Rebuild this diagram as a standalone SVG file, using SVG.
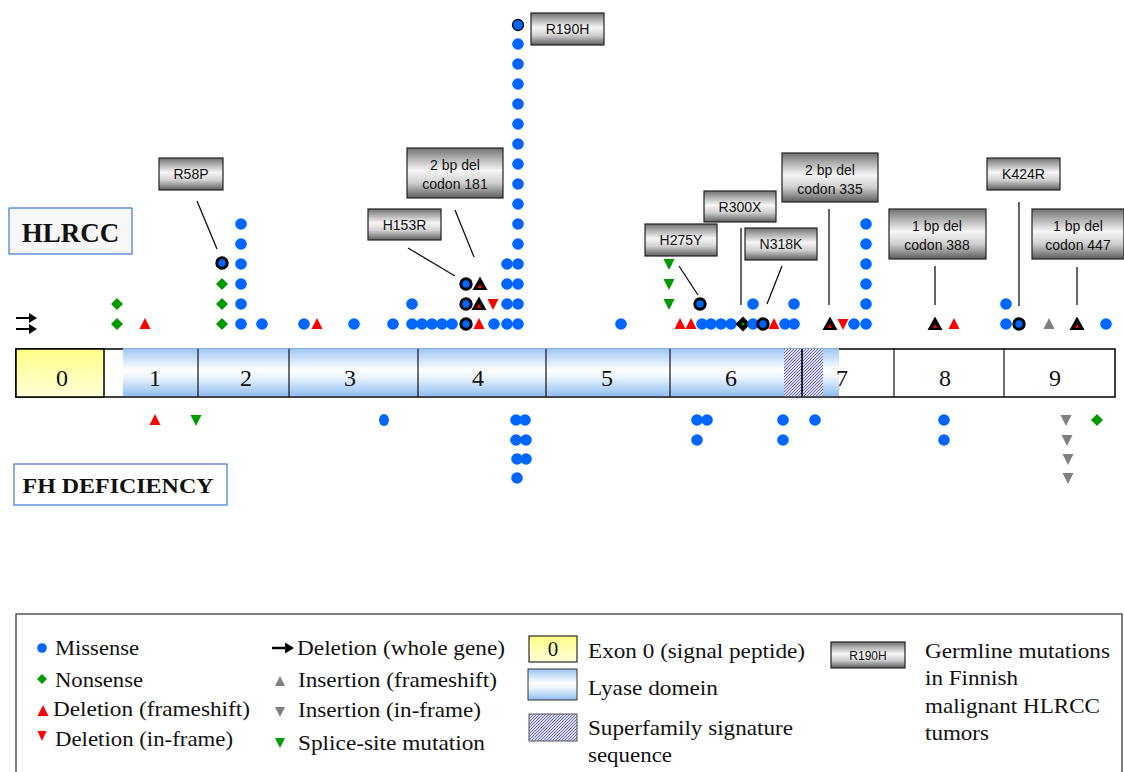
<svg xmlns="http://www.w3.org/2000/svg" xmlns:xlink="http://www.w3.org/1999/xlink" width="1124" height="772" viewBox="0 0 1124 772">
<style>
.gb{fill:url(#gray);stroke:#222;stroke-width:1.2}
.bt{font-family:"Liberation Sans",Arial,sans-serif;font-size:14px;fill:#111;text-anchor:middle}
.num{font-family:"Liberation Serif","Times New Roman",serif;font-size:24px;fill:#111;text-anchor:middle}
.lg{font-family:"Liberation Serif","Times New Roman",serif;font-size:21px;fill:#111}
.ttl{font-family:"Liberation Serif","Times New Roman",serif;font-weight:bold;fill:#111}
.ln{stroke:#111;stroke-width:1.3;fill:none}
.dv{stroke:#111;stroke-width:1.2}
</style>
<defs>
<linearGradient id="gray" x1="0" y1="0" x2="0" y2="1">
<stop offset="0" stop-color="#707070"/><stop offset="0.18" stop-color="#a8a8a8"/><stop offset="0.45" stop-color="#f6f6f6"/><stop offset="0.7" stop-color="#cfcfcf"/><stop offset="1" stop-color="#5c5c5c"/>
</linearGradient>
<linearGradient id="lyase" x1="0" y1="0" x2="0" y2="1">
<stop offset="0" stop-color="#9cc6f4"/><stop offset="0.45" stop-color="#ffffff"/><stop offset="0.6" stop-color="#eef5fe"/><stop offset="1" stop-color="#8fbef2"/>
</linearGradient>
<linearGradient id="yellow" x1="0" y1="0" x2="0" y2="1">
<stop offset="0" stop-color="#ffff88"/><stop offset="1" stop-color="#ffffd8"/>
</linearGradient>
<pattern id="hatch" width="3" height="3" patternUnits="userSpaceOnUse">
<rect width="3" height="3" fill="#dcdcf2"/><path d="M0,3 L3,0" stroke="#5a5ab8" stroke-width="0.9"/>
</pattern>
<circle id="mis" r="5.8" fill="#0066ff"/>
<polygon id="non" points="0,-6 6,0 0,6 -6,0" fill="#009900"/>
<polygon id="dfs" points="-5.5,5 5.5,5 0,-6" fill="#ff0000"/>
<polygon id="dif" points="-5.5,-5 5.5,-5 0,6" fill="#ff0000"/>
<polygon id="ins" points="-5.5,5 5.5,5 0,-6" fill="#808080"/>
<polygon id="inf" points="-5.5,-5 5.5,-5 0,6" fill="#808080"/>
<polygon id="spl" points="-5.5,-5 5.5,-5 0,6" fill="#009900"/>
<g id="gmis"><circle r="5.2" fill="#0066ff" stroke="#000" stroke-width="3"/><circle r="2.8" fill="#0066ff"/></g>
<g id="gdfs"><polygon points="-7.5,6 7.5,6 0,-7.5" fill="#000"/><polygon points="-2.2,4 2.2,4 0,0" fill="#ff0000"/></g>
<g id="gnon"><polygon points="0,-7.5 7.5,0 0,7.5 -7.5,0" fill="#000"/><circle r="1.5" fill="#00aa00"/></g>
</defs>
<rect width="1124" height="772" fill="#fff"/>

<g id="label-hlrcc">
<rect x="9" y="208" width="123" height="46" fill="#f7f7f7" stroke="#3a7bd5" stroke-width="1.2"/>
<text class="ttl" x="70.5" y="242" font-size="27" text-anchor="middle">HLRCC</text>
</g>
<g id="label-fhd">
<rect x="14" y="464" width="213" height="41" fill="#fff" stroke="#3a7bd5" stroke-width="1.2"/>
<text class="ttl" x="118" y="493" font-size="22" text-anchor="middle" textLength="191" lengthAdjust="spacingAndGlyphs">FH DEFICIENCY</text>
</g>

<g id="gene">
<rect x="16" y="349" width="1099" height="48" fill="#fff" stroke="#000" stroke-width="1.5"/>
<rect x="123" y="348.2" width="716" height="48" fill="url(#lyase)"/>
<rect x="784" y="349" width="39" height="47.5" fill="url(#hatch)"/>
<line x1="123" y1="397" x2="839" y2="397" stroke="#444" stroke-width="1.5"/>
<rect x="16" y="349" width="88" height="48" fill="url(#yellow)" stroke="#000" stroke-width="1.5"/>
<line class="dv" x1="198" y1="349" x2="198" y2="397"/>
<line class="dv" x1="289" y1="349" x2="289" y2="397"/>
<line class="dv" x1="418" y1="349" x2="418" y2="397"/>
<line class="dv" x1="546" y1="349" x2="546" y2="397"/>
<line class="dv" x1="670" y1="349" x2="670" y2="397"/>
<line x1="802" y1="349" x2="802" y2="397" stroke="#222" stroke-width="2"/>
<line class="dv" x1="894" y1="349" x2="894" y2="397"/>
<line class="dv" x1="1004" y1="349" x2="1004" y2="397"/>
<text class="num" x="62" y="386">0</text>
<text class="num" x="155" y="386">1</text>
<text class="num" x="246" y="386">2</text>
<text class="num" x="350" y="386">3</text>
<text class="num" x="478" y="386">4</text>
<text class="num" x="607" y="386">5</text>
<text class="num" x="731" y="386">6</text>
<text class="num" x="842" y="386">7</text>
<text class="num" x="945" y="386">8</text>
<text class="num" x="1055" y="386">9</text>
</g>

<g id="connectors">
<line class="ln" x1="197" y1="201" x2="217" y2="249"/>
<line class="ln" x1="408" y1="248" x2="455" y2="276"/>
<line class="ln" x1="455" y1="210" x2="474" y2="257"/>
<line class="ln" x1="679" y1="266" x2="698" y2="295"/>
<line class="ln" x1="741" y1="228" x2="741" y2="305"/>
<line class="ln" x1="782" y1="266" x2="767" y2="304"/>
<line class="ln" x1="829" y1="209" x2="829" y2="305"/>
<line class="ln" x1="935" y1="266" x2="935" y2="305"/>
<line class="ln" x1="1019" y1="202" x2="1019" y2="306"/>
<line class="ln" x1="1077" y1="267" x2="1077" y2="305"/>
</g>

<g id="whole-gene-deletion">
<path d="M16,318 H31 M16,329 H31" stroke="#000" stroke-width="2.2"/>
<polygon points="29,313 37,318 29,323" fill="#000"/>
<polygon points="29,324 37,329 29,334" fill="#000"/>
</g>

<g id="hlrcc-markers">
<use href="#non" x="117" y="304"/><use href="#non" x="117" y="324"/>
<use href="#dfs" x="145" y="324"/>
<use href="#non" x="222" y="324"/><use href="#non" x="222" y="304"/><use href="#non" x="222" y="284"/>
<use href="#gmis" x="222" y="263"/>
<use href="#mis" x="241" y="324"/><use href="#mis" x="241" y="304"/><use href="#mis" x="241" y="284"/><use href="#mis" x="241" y="264"/><use href="#mis" x="241" y="244"/><use href="#mis" x="241" y="224"/>
<use href="#mis" x="262" y="324"/>
<use href="#mis" x="304" y="324"/><use href="#dfs" x="317" y="324"/>
<use href="#mis" x="354" y="324"/><use href="#mis" x="393" y="324"/>
<use href="#mis" x="412" y="304"/>
<use href="#mis" x="412" y="324"/><use href="#mis" x="422" y="324"/><use href="#mis" x="432" y="324"/><use href="#mis" x="442" y="324"/><use href="#mis" x="452" y="324"/>
<use href="#gmis" x="466" y="324"/><use href="#gmis" x="466" y="304"/><use href="#gmis" x="466" y="284"/>
<use href="#dfs" x="479" y="324"/>
<use href="#gdfs" x="479" y="304"/><use href="#gdfs" x="480" y="284"/>
<use href="#dif" x="493" y="304"/>
<use href="#mis" x="494" y="324"/>
<use href="#mis" x="507" y="324"/><use href="#mis" x="507" y="304"/><use href="#mis" x="507" y="284"/><use href="#mis" x="507" y="264"/>
<use href="#mis" x="518" y="324"/><use href="#mis" x="518" y="304"/><use href="#mis" x="518" y="284"/><use href="#mis" x="518" y="264"/>
<use href="#mis" x="518" y="244"/><use href="#mis" x="518" y="224"/><use href="#mis" x="518" y="204"/><use href="#mis" x="518" y="184"/><use href="#mis" x="518" y="164"/><use href="#mis" x="518" y="144"/><use href="#mis" x="518" y="124"/><use href="#mis" x="518" y="104"/><use href="#mis" x="518" y="84"/><use href="#mis" x="518" y="64"/><use href="#mis" x="518" y="44"/>
<circle cx="518" cy="25" r="5.5" fill="#0066ff" stroke="#000" stroke-width="1.3"/>
<use href="#mis" x="621" y="324"/>
<use href="#spl" x="669" y="304"/><use href="#spl" x="669" y="284"/><use href="#spl" x="669" y="264"/>
<use href="#dfs" x="680" y="324"/><use href="#dfs" x="691" y="324"/>
<use href="#gmis" x="700" y="304"/>
<use href="#mis" x="702" y="324"/><use href="#mis" x="711" y="324"/><use href="#mis" x="721" y="324"/><use href="#mis" x="731" y="324"/>
<use href="#gnon" x="743" y="324"/>
<use href="#mis" x="753" y="324"/><use href="#mis" x="753" y="304"/>
<use href="#gmis" x="763" y="324"/>
<use href="#dfs" x="774" y="324"/>
<use href="#mis" x="785" y="324"/><use href="#mis" x="794" y="324"/><use href="#mis" x="794" y="304"/>
<use href="#gdfs" x="830" y="324"/>
<use href="#dif" x="843" y="324"/>
<use href="#mis" x="854" y="324"/>
<use href="#mis" x="866" y="324"/><use href="#mis" x="866" y="304"/><use href="#mis" x="866" y="284"/><use href="#mis" x="866" y="264"/><use href="#mis" x="866" y="244"/><use href="#mis" x="866" y="224"/>
<use href="#gdfs" x="935" y="324"/><use href="#dfs" x="954" y="324"/>
<use href="#mis" x="1006" y="304"/><use href="#mis" x="1006" y="324"/>
<use href="#gmis" x="1019" y="324"/>
<use href="#ins" x="1049" y="324"/>
<use href="#gdfs" x="1077" y="324"/>
<use href="#mis" x="1106" y="324"/>
</g>

<g id="fhd-markers">
<use href="#dfs" x="155" y="420"/>
<use href="#spl" x="196" y="420"/>
<ellipse cx="384" cy="420" rx="5" ry="6" fill="#0066ff"/>
<use href="#mis" x="516" y="420"/><use href="#mis" x="525" y="420"/>
<use href="#mis" x="516" y="440"/><use href="#mis" x="526" y="440"/>
<use href="#mis" x="517" y="459"/><use href="#mis" x="526" y="459"/>
<use href="#mis" x="517" y="478"/>
<use href="#mis" x="697" y="420"/><use href="#mis" x="707" y="420"/><use href="#mis" x="697" y="440"/>
<use href="#mis" x="783" y="420"/><use href="#mis" x="783" y="440"/>
<use href="#mis" x="815" y="420"/>
<use href="#mis" x="944" y="420"/><use href="#mis" x="944" y="440"/>
<use href="#inf" x="1066" y="420"/><use href="#inf" x="1067" y="440"/><use href="#inf" x="1068" y="459"/><use href="#inf" x="1068" y="478"/>
<use href="#non" x="1097" y="420"/>
</g>

<g id="box-r58p"><rect class="gb" x="159" y="158" width="64" height="32"/><text class="bt" x="191" y="179">R58P</text></g>
<g id="box-r190h"><rect class="gb" x="531" y="13" width="73" height="32"/><text class="bt" x="567.5" y="34">R190H</text></g>
<g id="box-h153r"><rect class="gb" x="368" y="209" width="73" height="31"/><text class="bt" x="404.5" y="230">H153R</text></g>
<g id="box-del181"><rect class="gb" x="407" y="148" width="96" height="50"/><text class="bt" x="455" y="170">2 bp del</text><text class="bt" x="455" y="189">codon 181</text></g>
<g id="box-h275y"><rect class="gb" x="645" y="224" width="72" height="32"/><text class="bt" x="681" y="245">H275Y</text></g>
<g id="box-r300x"><rect class="gb" x="704" y="191" width="72" height="31"/><text class="bt" x="740" y="212">R300X</text></g>
<g id="box-n318k"><rect class="gb" x="745" y="228" width="72" height="32"/><text class="bt" x="781" y="249">N318K</text></g>
<g id="box-del335"><rect class="gb" x="782" y="153" width="96" height="49"/><text class="bt" x="830" y="175">2 bp del</text><text class="bt" x="830" y="194">codon 335</text></g>
<g id="box-del388"><rect class="gb" x="889" y="209" width="97" height="50"/><text class="bt" x="937" y="231">1 bp del</text><text class="bt" x="937" y="250">codon 388</text></g>
<g id="box-k424r"><rect class="gb" x="987" y="158" width="73" height="32"/><text class="bt" x="1023.5" y="179">K424R</text></g>
<g id="box-del447"><rect class="gb" x="1032" y="209" width="92" height="50"/><text class="bt" x="1078" y="231">1 bp del</text><text class="bt" x="1078" y="250">codon 447</text></g>

<g id="legend">
<rect x="16" y="614" width="1106" height="180" fill="none" stroke="#555" stroke-width="1.5"/>
<circle cx="42" cy="648" r="4.8" fill="#0066ff"/>
<text class="lg" x="55" y="655" textLength="84" lengthAdjust="spacingAndGlyphs">Missense</text>
<polygon points="42,674 47,679 42,684 37,679" fill="#009900"/>
<text class="lg" x="55" y="687" textLength="88" lengthAdjust="spacingAndGlyphs">Nonsense</text>
<polygon points="37.5,716 48.5,716 43,705" fill="#ff0000"/>
<text class="lg" x="53" y="716" textLength="197" lengthAdjust="spacingAndGlyphs">Deletion (frameshift)</text>
<polygon points="37.5,731 46.5,731 42,741" fill="#ff0000"/>
<text class="lg" x="55" y="746" textLength="178" lengthAdjust="spacingAndGlyphs">Deletion (in-frame)</text>
<line x1="272" y1="648" x2="287" y2="648" stroke="#000" stroke-width="2.5"/>
<polygon points="285,642.5 294,648 285,653.5" fill="#000"/>
<text class="lg" x="297" y="655" textLength="208" lengthAdjust="spacingAndGlyphs">Deletion (whole gene)</text>
<polygon points="275,686 285,686 280,676" fill="#808080"/>
<text class="lg" x="298" y="687" textLength="199" lengthAdjust="spacingAndGlyphs">Insertion (frameshift)</text>
<polygon points="275,707 285,707 280,717" fill="#808080"/>
<text class="lg" x="298" y="717" textLength="183" lengthAdjust="spacingAndGlyphs">Insertion (in-frame)</text>
<polygon points="275,738 285,738 280,748" fill="#009900"/>
<text class="lg" x="298" y="750" textLength="187" lengthAdjust="spacingAndGlyphs">Splice-site mutation</text>
<rect x="529" y="636" width="48" height="26" fill="url(#yellow)" stroke="#000" stroke-width="1"/>
<text class="lg" x="553" y="656" text-anchor="middle">0</text>
<text class="lg" x="588" y="658" textLength="217" lengthAdjust="spacingAndGlyphs">Exon 0 (signal peptide)</text>
<rect x="528" y="669" width="49" height="31" fill="url(#lyase)" stroke="#333" stroke-width="1"/>
<text class="lg" x="588" y="695" textLength="130" lengthAdjust="spacingAndGlyphs">Lyase domein</text>
<rect x="529" y="714" width="48" height="27" fill="url(#hatch)" stroke="#555" stroke-width="1"/>
<text class="lg" x="588" y="735" textLength="205" lengthAdjust="spacingAndGlyphs">Superfamily signature</text>
<text class="lg" x="588" y="762" textLength="84" lengthAdjust="spacingAndGlyphs">sequence</text>
<rect class="gb" x="831" y="642" width="74" height="26"/>
<text x="868" y="660" font-family="Liberation Sans,Arial,sans-serif" font-size="12" text-anchor="middle" fill="#111">R190H</text>
<text class="lg" x="925" y="658" textLength="185" lengthAdjust="spacingAndGlyphs">Germline mutations</text>
<text class="lg" x="925" y="685" textLength="93" lengthAdjust="spacingAndGlyphs">in Finnish</text>
<text class="lg" x="925" y="713" textLength="175" lengthAdjust="spacingAndGlyphs">malignant HLRCC</text>
<text class="lg" x="925" y="740" textLength="64" lengthAdjust="spacingAndGlyphs">tumors</text>
</g>
</svg>
